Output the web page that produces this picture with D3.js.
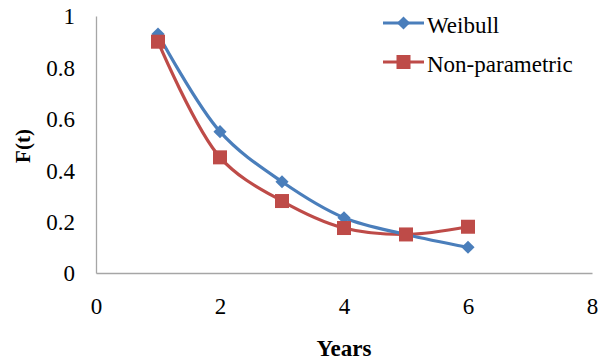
<!DOCTYPE html>
<html>
<head>
<meta charset="utf-8">
<script src="https://cdn.jsdelivr.net/npm/d3@7"></script>
<style>
  html, body { margin: 0; padding: 0; background: #fff; }
  svg { display: block; }
</style>
</head>
<body>
<svg id="chart" width="606" height="360"></svg>
<script>
// Survival estimates by year
const years = [1, 2, 3, 4, 5, 6];
const weibull = [0.93, 0.55, 0.355, 0.215, 0.15, 0.10];
const nonParametric = [0.90, 0.45, 0.28, 0.175, 0.15, 0.18];
const xTicks = [0, 2, 4, 6, 8];
const yTicks = [0, 0.2, 0.4, 0.6, 0.8, 1];
const seriesNames = ["Weibull", "Non-parametric"];

const FONT = "'Liberation Serif', 'Times New Roman', serif";
const FS = 23;

const svg = d3.select("#chart");
const x = d3.scaleLinear().domain([0, 8]).range([96, 592]);
const y = d3.scaleLinear().domain([0, 1]).range([273, 16]);
const axisColor = "#a6a6a6";

// Y axis
const yAxis = svg.append("g").attr("transform", "translate(96,0)")
  .call(d3.axisLeft(y).tickValues(yTicks).tickSize(0).tickPadding(21)
    .tickFormat(d => d3.format("~g")(d)));
yAxis.attr("font-family", FONT).attr("font-size", FS);
yAxis.select(".domain").attr("stroke", axisColor).attr("stroke-width", 1.3);
yAxis.selectAll("text").attr("fill", "#000").attr("dy", "0.34em");

// X axis
const xAxis = svg.append("g").attr("transform", "translate(0,273)")
  .call(d3.axisBottom(x).tickValues(xTicks).tickSize(0).tickPadding(25));
xAxis.attr("font-family", FONT).attr("font-size", FS);
xAxis.select(".domain").attr("stroke", axisColor).attr("stroke-width", 1.3);
xAxis.selectAll("text").attr("fill", "#000");

// Axis titles
svg.append("text")
  .attr("transform", "translate(30,146) rotate(-90)")
  .attr("text-anchor", "middle")
  .attr("font-family", FONT)
  .attr("font-size", 21).attr("font-weight", "bold")
  .text("F(t)");
svg.append("text")
  .attr("x", 344).attr("y", 356)
  .attr("text-anchor", "middle")
  .attr("font-family", FONT)
  .attr("font-size", FS).attr("font-weight", "bold")
  .text("Years");

const line = d3.line()
  .x((d, i) => x(years[i]))
  .y(d => y(d))
  .curve(d3.curveCatmullRom.alpha(0.5));

const series = [
  { name: seriesNames[0], values: weibull, color: "#4a7ebb", marker: "diamond" },
  { name: seriesNames[1], values: nonParametric, color: "#be4b48", marker: "square" }
];

function drawMarker(g, type, cx, cy, color) {
  if (type === "diamond") {
    g.append("path")
      .attr("d", d3.symbol(d3.symbolDiamond2, 110)())
      .attr("transform", `translate(${cx},${cy})`)
      .attr("fill", color);
  } else {
    g.append("rect")
      .attr("x", cx - 7).attr("y", cy - 7)
      .attr("width", 14).attr("height", 14)
      .attr("fill", color);
  }
}

series.slice().reverse().forEach(s => {
  svg.append("path")
    .attr("d", line(s.values))
    .attr("fill", "none")
    .attr("stroke", s.color)
    .attr("stroke-width", 3.2);
});
series.forEach(s => {
  const g = svg.append("g");
  s.values.forEach((v, i) => drawMarker(g, s.marker, x(years[i]), y(v), s.color));
});

// Legend
const legend = svg.append("g");
series.forEach((s, i) => {
  const ly = 23 + i * 39;
  legend.append("line")
    .attr("x1", 383).attr("x2", 424).attr("y1", ly).attr("y2", ly)
    .attr("stroke", s.color).attr("stroke-width", 3.2);
  drawMarker(legend, s.marker, 403.5, ly, s.color);
  legend.append("text")
    .attr("x", 427).attr("y", ly + 9.5)
    .attr("font-family", FONT)
    .attr("font-size", FS)
    .attr("fill", "#000")
    .text(s.name);
});
</script>
</body>
</html>
